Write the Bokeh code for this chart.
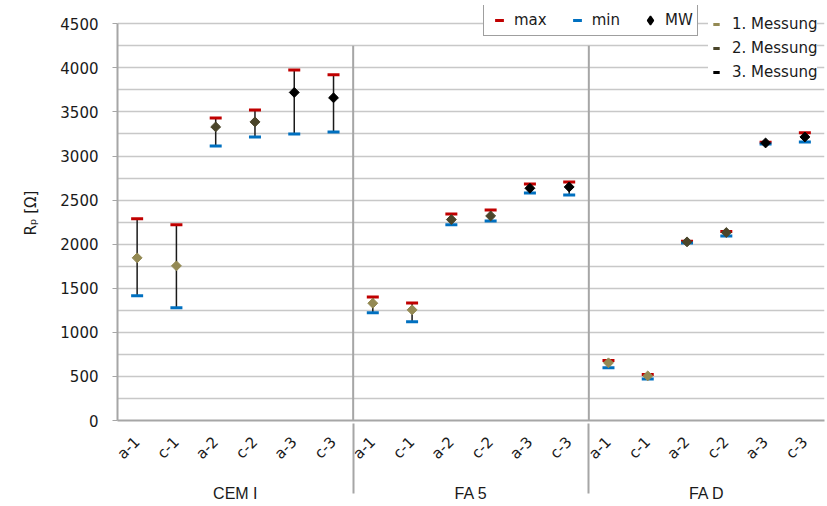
import math

from bokeh.embed import file_html
from bokeh.models import (ColumnDataSource, FactorRange, FixedTicker, Legend,
                          LegendItem, Range1d)
from bokeh.plotting import figure
from bokeh.resources import INLINE

# ---- data: polarisation resistance Rp [Ohm] per mix and specimen ----
groups = ["CEM I", "FA 5", "FA D"]
samples = ["a-1", "c-1", "a-2", "c-2", "a-3", "c-3"]
messung = [1, 1, 2, 2, 3, 3]          # measurement number of each specimen

cem_max = [2287, 2219, 3432, 3523, 3976, 3921]
cem_min = [1414, 1278, 3114, 3216, 3250, 3273]
cem_mw = [1845, 1754, 3330, 3387, 3721, 3660]

fa5_max = [1402, 1334, 2343, 2388, 2683, 2706]
fa5_min = [1221, 1119, 2219, 2264, 2581, 2559]
fa5_mw = [1330, 1255, 2279, 2320, 2634, 2649]

fad_max = [680, 521, 2033, 2143, 3156, 3265]
fad_min = [597, 472, 2014, 2094, 3137, 3160]
fad_mw = [654, 506, 2026, 2132, 3148, 3216]

y_ticks = list(range(0, 4501, 500))
y_grid = list(range(0, 4501, 250))

messung_labels = ["1. Messung", "2. Messung", "3. Messung"]
messung_colors = ["#948A54", "#4A452A", "#000000"]
max_color = "#C00000"
min_color = "#0070C0"

# ---- assemble columns ----
factors = [(g, s) for g in groups for s in samples]
rp_max = cem_max + fa5_max + fad_max
rp_min = cem_min + fa5_min + fad_min
rp_mw = cem_mw + fa5_mw + fad_mw
mw_colors = [messung_colors[m - 1] for _ in groups for m in messung]

src = ColumnDataSource(dict(x=factors, hi=rp_max, lo=rp_min, mw=rp_mw,
                            color=mw_colors))

FONT = "DejaVu Sans"
AXIS_GREY = "#a6a6a6"
TEXT = "#1a1a1a"

# a little head room above 4500 keeps the legends inside the frame
p = figure(width=827, height=506,
           x_range=FactorRange(*factors, group_padding=0, range_padding=0),
           y_range=Range1d(0, 4707),
           output_backend="svg", toolbar_location=None,
           min_border_left=117, min_border_right=3,
           min_border_top=5, min_border_bottom=86)
p.outline_line_color = None
p.background_fill_color = "white"

# ---- grid ----
p.xgrid.grid_line_color = None
p.ygrid.ticker = FixedTicker(ticks=y_grid)
p.ygrid.grid_line_color = "#c8c8c8"
p.ygrid.grid_line_width = 1.5

# ---- y axis ----
ya = p.yaxis[0]
ya.ticker = FixedTicker(ticks=y_ticks)
ya.bounds = (0, 4500)
ya.axis_label = "R\u209a [\u03a9]"
ya.axis_label_text_font = FONT
ya.axis_label_text_font_size = "15px"
ya.axis_label_text_font_style = "normal"
ya.axis_label_text_color = TEXT
ya.axis_label_standoff = 17
ya.major_label_text_font = FONT
ya.major_label_text_font_size = "15px"
ya.major_label_text_color = TEXT
ya.major_label_standoff = 14
ya.axis_line_color = AXIS_GREY
ya.axis_line_width = 2
ya.major_tick_line_color = AXIS_GREY
ya.major_tick_in = 0
ya.major_tick_out = 5
ya.minor_tick_line_color = None

# ---- x axis (nested categories) ----
xa = p.xaxis[0]
xa.axis_line_color = AXIS_GREY
xa.axis_line_width = 2
xa.major_tick_line_color = None
xa.minor_tick_line_color = None
xa.major_label_orientation = math.pi / 4
xa.major_label_text_font = FONT
xa.major_label_text_font_size = "15px"
xa.major_label_text_color = TEXT
xa.major_label_standoff = 13
xa.group_text_font = "Liberation Sans Narrow, Liberation Sans"
xa.group_text_font_size = "16px"
xa.group_text_font_style = "normal"
xa.group_text_color = TEXT
xa.separator_line_color = AXIS_GREY
xa.separator_line_width = 2

# separators between the mixes inside the plot area
n = len(samples)
sep_x = [n * k for k in range(1, len(groups))]
p.segment(x0=sep_x, x1=sep_x, y0=[0] * len(sep_x), y1=[4250] * len(sep_x),
          line_color=AXIS_GREY, line_width=2)

# ---- error bars, min/max markers, mean values ----
p.segment(x0="x", x1="x", y0="lo", y1="hi", source=src,
          line_color=TEXT, line_width=1.5)
r_max = p.scatter(x="x", y="hi", source=src, marker="dash", size=12,
                  line_color=max_color, line_width=3)
r_min = p.scatter(x="x", y="lo", source=src, marker="dash", size=12,
                  line_color=min_color, line_width=3)
p.scatter(x="x", y="mw", source=src, marker="square", angle=math.pi / 4,
          size=7, fill_color="color", line_color="color", line_width=1)

# legend-only renderers (a single undrawn NaN point each)
nan_pt = dict(x=[factors[0]], y=[float("nan")])
r_mwleg = p.scatter(marker="diamond", size=9, fill_color="black",
                    line_color="black", line_width=1.5, **nan_pt)

leg1 = Legend(items=[LegendItem(label="max", renderers=[r_max]),
                     LegendItem(label="min", renderers=[r_min]),
                     LegendItem(label="MW", renderers=[r_mwleg])],
              orientation="horizontal", location=(366, 384),
              glyph_width=22, glyph_height=22, label_standoff=4, spacing=19,
              padding=4, margin=0,
              label_text_font=FONT, label_text_font_size="15px",
              label_text_color=TEXT,
              border_line_color="#404040", border_line_width=1,
              background_fill_color="white", background_fill_alpha=1)
p.add_layout(leg1, "center")

m_items = []
for lab, col in zip(messung_labels, messung_colors):
    r = p.scatter(marker="dash", size=6, line_color=col, line_width=3,
                  **nan_pt)
    m_items.append(LegendItem(label=lab, renderers=[r]))
leg2 = Legend(items=m_items, orientation="vertical", location=(591, 338),
              glyph_width=16, glyph_height=20, label_standoff=8, spacing=4,
              label_height=20, padding=2, margin=0,
              label_text_font=FONT, label_text_font_size="15px",
              label_text_color=TEXT,
              border_line_color=None,
              background_fill_color="white", background_fill_alpha=1)
p.add_layout(leg2, "center")

open("out.html", "w").write(file_html(p, INLINE))
